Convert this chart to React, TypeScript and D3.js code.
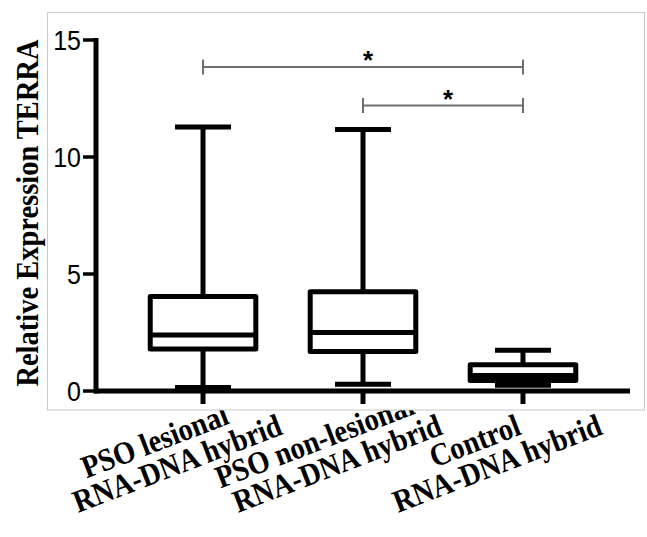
import React from "react";
import * as d3 from "d3";

const groupLine1 = ["PSO lesional", "PSO non-lesional", "Control"];
const groupLine2 = ["RNA-DNA hybrid", "RNA-DNA hybrid", "RNA-DNA hybrid"];
const whiskerHigh = [11.28, 11.17, 1.74];
const q3Values = [4.04, 4.24, 1.12];
const medianValues = [2.39, 2.5, 0.66];
const q1Values = [1.79, 1.69, 0.45];
const whiskerLow = [0.15, 0.29, 0.25];
const yTicks = [0, 5, 10, 15];
const comparisonFrom = [0, 1];
const comparisonTo = [2, 2];
const comparisonLevel = [13.85, 12.2];
const comparisonLabel = ["*", "*"];
const yLabel = "Relative Expression TERRA";

const W = 647;
const H = 537;
const SERIF = "'Liberation Serif', 'Times New Roman', serif";
const SANS = "'Liberation Sans', Arial, sans-serif";

export default function App() {
  const x = d3
    .scalePoint<number>()
    .domain(d3.range(groupLine1.length))
    .range([96, 630])
    .padding(0.669);
  const y = d3.scaleLinear().domain([0, 15]).range([391, 40]);
  const step = x.step();
  const boxW = step * 0.66;
  const capW = step * 0.35;
  const lw = 5;
  const axisY = y(0);

  return (
    <svg
      width={W}
      height={H}
      style={{ position: "absolute", left: 0, top: 0, background: "#fff" }}
    >
      <rect x={0} y={0} width={W} height={H} fill="#fff" />
      {/* x category labels (drawn under the plot frame) */}
      {groupLine1.map((g, i) => (
        <g
          key={"xl" + i}
          transform={`translate(${x(i)},${axisY}) rotate(-21)`}
          fontFamily={SERIF}
          fontWeight="bold"
          fontSize={28.5}
          fill="#000"
        >
          <text transform={`translate(-63,40) scale(1,1.12)`} textAnchor="middle">
            {g}
          </text>
          <text transform={`translate(-50,69) scale(1,1.12)`} textAnchor="middle">
            {groupLine2[i]}
          </text>
        </g>
      ))}
      {/* plot frame */}
      <rect x={47.5} y={12.5} width={597} height={397.5} fill="#fff" stroke="#c8c8c8" strokeWidth={1} />
      {/* y label */}
      <text
        transform={`translate(38,213) rotate(-90) scale(1,1.12)`}
        textAnchor="middle"
        fontFamily={SERIF}
        fontWeight="bold"
        fontSize={28.5}
        fill="#000"
      >
        {yLabel}
      </text>
      {/* significance brackets */}
      {comparisonFrom.map((a, i) => {
        const x1 = x(a)!;
        const x2 = x(comparisonTo[i])!;
        const by = y(comparisonLevel[i]);
        return (
          <g key={"br" + i}>
            <path
              d={`M${x1},${by - 7.5}V${by + 7.5}M${x1},${by}H${x2}M${x2},${by - 7.5}V${by + 7.5}`}
              stroke="#6e6e6e"
              strokeWidth={2}
              fill="none"
            />
            <text
              x={(x1 + x2) / 2 + 5}
              y={by + 2}
              textAnchor="middle"
              fontFamily={SANS}
              fontWeight="bold"
              fontSize={26}
              fill="#000"
            >
              {comparisonLabel[i]}
            </text>
          </g>
        );
      })}
      {/* boxes */}
      {groupLine1.map((_, i) => {
        const cx = x(i)!;
        return (
          <g key={"bx" + i} stroke="#000" strokeWidth={lw} fill="none" strokeLinejoin="round">
            <line x1={cx} x2={cx} y1={y(whiskerHigh[i])} y2={y(q3Values[i])} />
            <line x1={cx} x2={cx} y1={y(q1Values[i])} y2={y(whiskerLow[i])} />
            <line x1={cx - capW / 2} x2={cx + capW / 2} y1={y(whiskerHigh[i])} y2={y(whiskerHigh[i])} />
            <line x1={cx - capW / 2} x2={cx + capW / 2} y1={y(whiskerLow[i])} y2={y(whiskerLow[i])} />
            <rect
              x={cx - boxW / 2}
              y={y(q3Values[i])}
              width={boxW}
              height={y(q1Values[i]) - y(q3Values[i])}
              fill="#fff"
            />
            <line x1={cx - boxW / 2} x2={cx + boxW / 2} y1={y(medianValues[i])} y2={y(medianValues[i])} />
          </g>
        );
      })}
      {/* axes */}
      <g stroke="#000" fill="none">
        <line x1={96} x2={96} y1={y(15) - 2} y2={axisY + 2.5} strokeWidth={5} />
        <line x1={94} x2={630} y1={axisY} y2={axisY} strokeWidth={5} />
        {yTicks.map((t) => (
          <line key={"yt" + t} x1={83} x2={96} y1={y(t)} y2={y(t)} strokeWidth={3.5} />
        ))}
        {groupLine1.map((_, i) => (
          <line key={"xt" + i} x1={x(i)!} x2={x(i)!} y1={axisY} y2={axisY + 13} strokeWidth={5} />
        ))}
      </g>
      {yTicks.map((t) => (
        <text
          key={"ytl" + t}
          transform={`translate(81,${y(t)}) scale(1,1.1)`}
          dy="0.36em"
          textAnchor="end"
          fontFamily={SANS}
          fontSize={25}
          fill="#000"
        >
          {t}
        </text>
      ))}
    </svg>
  );
}
